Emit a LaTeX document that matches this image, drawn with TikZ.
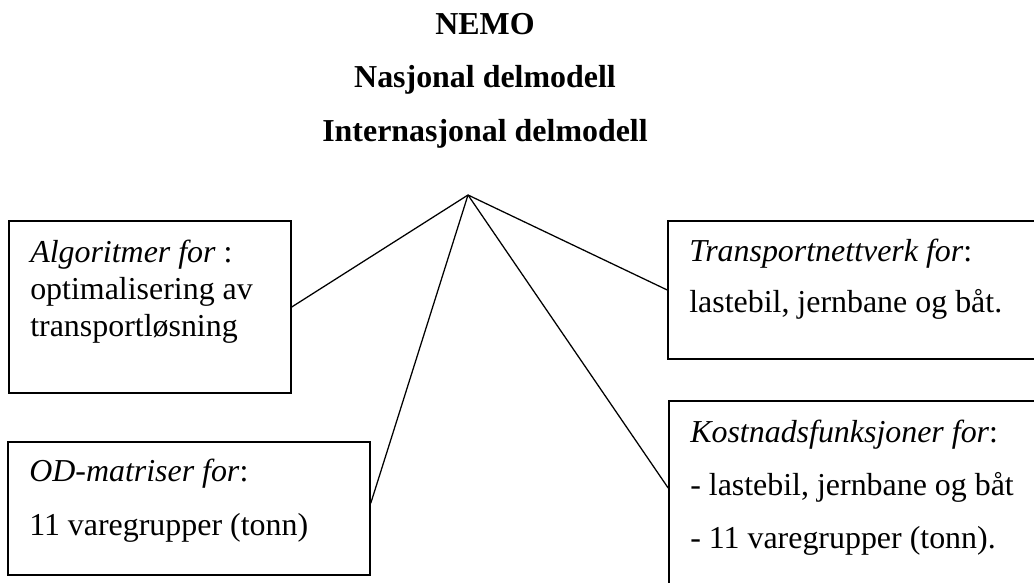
\documentclass[tikz,border=0pt]{standalone}
\usepackage{fontspec}
\setmainfont{Liberation Serif}
\usepackage{tikz}
\tikzset{
box/.style = {rectangle, draw=black, line width=1pt, minimum width = #1, inner sep=0pt},
box/.default = 1cm,
txt/.style = {anchor=base west, inner sep=0pt, font=\fontsize{22.7}{27}\selectfont},
ttl/.style = {anchor=base, inner sep=0pt, font=\fontsize{22.7}{27}\selectfont\bfseries},
}

\begin{document}
\begin{tikzpicture}[x=0.025cm, y=-0.025cm]
  \useasboundingbox (0,0) rectangle (1034,583);
  \clip (0,0) rectangle (1034,583);

  % Title
    \node[ttl] (nemo) at (485,35) {NEMO};
    \node[ttl] (nasj) at (485,88) {Nasjonal delmodell};
    \node[ttl] (intl) at (485,142) {Internasjonal delmodell};

  % Boxes
    \node[box=7.05cm, minimum height=4.3cm] (algBox) at (150,307) {};
    \node[box=9.05cm, minimum height=3.325cm] (odBox) at (189,508.5) {};
    \node[box=9.55cm, minimum height=3.45cm] (netBox) at (859,290) {};
    \node[box=9.55cm, minimum height=4.975cm] (costBox) at (860,500.5) {};

  % Texts
    \node[txt] (algA) at (30,263) {\textit{Algoritmer for} :};
    \node[txt] (algB) at (30,300) {optimalisering av};
    \node[txt] (algC) at (30,337) {transportløsning};
    \node[txt] (odA) at (29,482) {\textit{OD-matriser for}:};
    \node[txt] (odB) at (29,535) {11 varegrupper (tonn)};
    \node[txt] (netA) at (689,262) {\textit{Transportnettverk for}:};
    \node[txt] (netB) at (689,313) {lastebil, jernbane og båt.};
    \node[txt] (costA) at (690,442) {\textit{Kostnadsfunksjoner for}:};
    \node[txt] (costB) at (690,495) {- lastebil, jernbane og båt};
    \node[txt] (costC) at (690,548) {- 11 varegrupper (tonn).};

  % Node
    \coordinate (apex) at (468,195);

  % Lines
    \draw[line width=0.9pt] (apex) -- (algBox.east);
    \draw[line width=0.9pt] (apex) -- ([yshift=0.13cm]odBox.east);
    \draw[line width=0.9pt] (apex) -- (netBox.west);
    \draw[line width=0.9pt] (apex) -- ([yshift=0.31cm]costBox.west);
\end{tikzpicture}
\end{document}
